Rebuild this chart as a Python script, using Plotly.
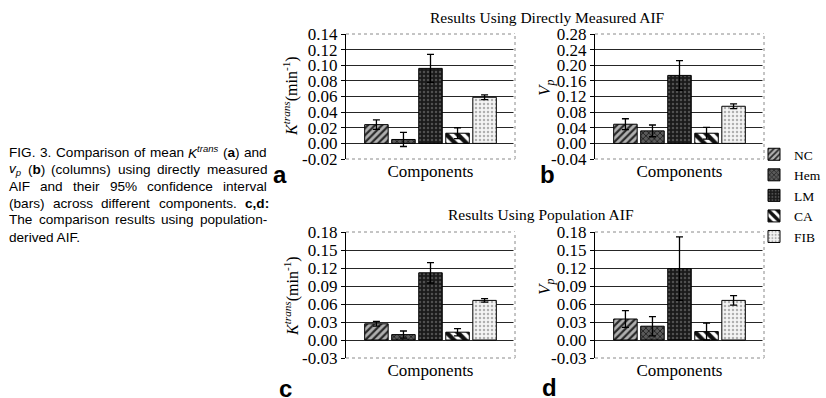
import re
import plotly.graph_objects as go

# ---------------- data ----------------
categories = ["NC", "Hem", "LM", "CA", "FIB"]
x_label = "Components"

a_vals = [0.024, 0.005, 0.096, 0.013, 0.059]
a_err = [0.006, 0.009, 0.018, 0.007, 0.003]
b_vals = [0.049, 0.032, 0.174, 0.026, 0.095]
b_err = [0.014, 0.015, 0.038, 0.015, 0.006]
c_vals = [0.027, 0.009, 0.112, 0.013, 0.066]
c_err = [0.004, 0.006, 0.017, 0.006, 0.003]
d_vals = [0.035, 0.023, 0.119, 0.014, 0.066]
d_err = [0.014, 0.016, 0.053, 0.014, 0.008]

a_ticks = [-0.02, 0.00, 0.02, 0.04, 0.06, 0.08, 0.10, 0.12, 0.14]
b_ticks = [-0.04, 0.00, 0.04, 0.08, 0.12, 0.16, 0.20, 0.24, 0.28]
cd_ticks = [-0.03, 0.00, 0.03, 0.06, 0.09, 0.12, 0.15, 0.18]

title_top = "Results Using Directly Measured AIF"
title_bottom = "Results Using Population AIF"
ylab_k = "<i>K</i><sup><i>trans</i></sup>(min<sup>-1</sup>)"
ylab_v = "<i>V<sub>p</sub></i>"
panel_letters = ["a", "b", "c", "d"]

caption_lines = [
    "FIG. 3. Comparison of mean <i>K</i><sup><i>trans</i></sup> (<b>a</b>) and",
    "<i>v<sub>p</sub></i> (<b>b</b>) (columns) using directly measured",
    "AIF and their 95% confidence interval",
    "(bars) across different components. <b>c,d:</b>",
    "The comparison results using population-",
    "derived AIF.",
]

# ---------------- styles ----------------
W, H = 826, 398
SERIF = "Liberation Serif"
SANS = "Liberation Sans"

styles = {
    "NC": dict(shape="/", fgcolor="#2a2a2a", bgcolor="#b0b0b0", size=5, solidity=0.45),
    "Hem": dict(shape="x", fgcolor="#222222", bgcolor="#5a5a5a", size=4, solidity=0.4),
    "LM": dict(shape=".", fgcolor="#505050", bgcolor="#1a1a1a", size=4, solidity=0.3),
    "CA": dict(shape="\\", fgcolor="#111111", bgcolor="#ffffff", size=8, solidity=0.55),
    "FIB": dict(shape=".", fgcolor="#b0b0b0", bgcolor="#f4f4f4", size=4, solidity=0.3),
}


def px_x(p):
    return p / W


def px_y(p):
    return 1 - p / H


# plot areas in pixels (left, right, top, bottom)
areas = [
    (346, 515, 34, 159),
    (595, 764, 34, 159),
    (346, 515, 232, 358),
    (595, 764, 232, 358),
]
panels = [
    (a_vals, a_err, a_ticks),
    (b_vals, b_err, b_ticks),
    (c_vals, c_err, cd_ticks),
    (d_vals, d_err, cd_ticks),
]

fig = go.Figure()
layout = dict(
    width=W, height=H, margin=dict(l=0, r=0, t=0, b=0, pad=0, autoexpand=False),
    paper_bgcolor="white", plot_bgcolor="white",
    font=dict(family=SERIF, color="black"),
    barmode="group", bargap=0.2, bargroupgap=0.13,
    showlegend=True,
    legend=dict(x=px_x(754), y=px_y(139), xanchor="left", yanchor="top",
                font=dict(family=SERIF, size=13.5, color="black"),
                itemwidth=30, tracegroupgap=0, bgcolor="rgba(0,0,0,0)"),
)

shapes = []
for k, ((vals, errs, ticks), (l, r, t, b)) in enumerate(zip(panels, areas)):
    sfx = "" if k == 0 else str(k + 1)
    xa, ya = "x" + sfx, "y" + sfx
    for i, cat in enumerate(categories):
        st = styles[cat]
        fig.add_trace(go.Bar(
            x=[x_label], y=[vals[i]], name=cat,
            showlegend=(k == 0), xaxis=xa, yaxis=ya,
            marker=dict(color=st["bgcolor"], line=dict(color="black", width=1),
                        pattern=dict(shape=st["shape"], fgcolor=st["fgcolor"],
                                     bgcolor=st["bgcolor"], size=st["size"],
                                     solidity=st["solidity"], fillmode="replace")),
            error_y=dict(type="data", array=[errs[i]], symmetric=True,
                         color="black", thickness=1.3, width=3.5),
        ))
    layout["xaxis" + sfx] = dict(
        domain=[px_x(l), px_x(r)], anchor=ya, type="category", range=[-0.5, 0.5],
        showgrid=False, showline=False, zeroline=False, ticks="", automargin=False,
        tickfont=dict(family=SERIF, size=17, color="black"),
    )
    layout["yaxis" + sfx] = dict(
        domain=[px_y(b), px_y(t)], anchor=xa, range=[ticks[0], ticks[-1]],
        tickvals=ticks, ticktext=[f"{v:.2f}" for v in ticks], automargin=False,
        showgrid=True, gridcolor="#262626", gridwidth=1.4, zeroline=False,
        showline=True, linecolor="black", linewidth=1.3,
        ticks="outside", ticklen=4, tickcolor="black", tickwidth=1,
        tickfont=dict(family=SERIF, size=17, color="black"),
    )
    xd, yd = xa + " domain", ya + " domain"
    for (x0, y0, x1, y1) in [(0, 1, 1, 1), (1, 0, 1, 1), (0, 0, 1, 0)]:
        shapes.append(dict(type="line", xref=xd, yref=yd, x0=x0, y0=y0, x1=x1, y1=y1,
                           line=dict(color="white", width=3), layer="above"))
        shapes.append(dict(type="line", xref=xd, yref=yd, x0=x0, y0=y0, x1=x1, y1=y1,
                           line=dict(color="#8a8a8a", width=1, dash="dot"), layer="above"))

layout["shapes"] = shapes

annotations = []


def ann(text, x, y, size, family, xanchor="center", yanchor="middle", angle=0):
    annotations.append(dict(text=text, x=px_x(x), y=px_y(y), xref="paper", yref="paper",
                            xanchor=xanchor, yanchor=yanchor, showarrow=False,
                            textangle=angle,
                            font=dict(family=family, size=size, color="black")))


ann(title_top, 547, 17, 15.5, SERIF)
ann(title_bottom, 541, 215, 15.5, SERIF)
ann(ylab_k, 291, 96, 16, SERIF, angle=-90)
ann(ylab_k, 291, 296, 16, SERIF, angle=-90)
ann(ylab_v, 546, 88, 17, SERIF, angle=-90)
ann(ylab_v, 546, 287, 17, SERIF, angle=-90)
ann("<b>" + panel_letters[0] + "</b>", 280, 174, 24, SANS)
ann("<b>" + panel_letters[1] + "</b>", 547, 174, 24, SANS)
ann("<b>" + panel_letters[2] + "</b>", 285, 388, 24, SANS)
ann("<b>" + panel_letters[3] + "</b>", 549, 387, 24, SANS)

# caption: justified text built from word widths (Arial / Liberation Sans metrics)
WID = {' ': 278, 'a': 556, 'b': 556, 'c': 500, 'd': 556, 'e': 556, 'f': 278, 'g': 556,
       'h': 556, 'i': 222, 'j': 222, 'k': 500, 'l': 222, 'm': 833, 'n': 556, 'o': 556,
       'p': 556, 'q': 556, 'r': 333, 's': 500, 't': 278, 'u': 556, 'v': 500, 'w': 722,
       'x': 500, 'y': 500, 'z': 500, 'A': 667, 'C': 722, 'F': 611, 'G': 778, 'I': 278,
       'K': 667, 'T': 611, '.': 278, ',': 278, ':': 278, '-': 333, '(': 333, ')': 333,
       '%': 889, '0': 556, '1': 556, '2': 556, '3': 556, '4': 556, '5': 556, '6': 556,
       '7': 556, '8': 556, '9': 556}


def word_width(html, size):
    total = 0.0
    scale = 1.0
    for tok in re.split(r"(<[^>]+>)", html):
        if tok.startswith("<"):
            if tok in ("<sup>", "<sub>"):
                scale = 0.7
            elif tok in ("</sup>", "</sub>"):
                scale = 1.0
            continue
        for ch in tok:
            total += WID.get(ch, 556) * scale
    return total * size / 1000.0


CAP_SIZE = 13.6
CAP_LEFT, CAP_RIGHT = 7, 265
for li, line in enumerate(caption_lines):
    y = 152 + li * 17.0
    words = line.split(" ")
    if li == len(caption_lines) - 1 or len(words) == 1:
        ann(line, CAP_LEFT, y, CAP_SIZE, SANS, xanchor="left")
        continue
    widths = [word_width(w, CAP_SIZE) for w in words]
    gap = (CAP_RIGHT - CAP_LEFT - sum(widths)) / (len(words) - 1)
    xpos = CAP_LEFT
    for w, wd in zip(words, widths):
        ann(w, xpos, y, CAP_SIZE, SANS, xanchor="left")
        xpos += wd + gap

layout["annotations"] = annotations
fig.update_layout(**layout)
fig.write_html("out.html")
